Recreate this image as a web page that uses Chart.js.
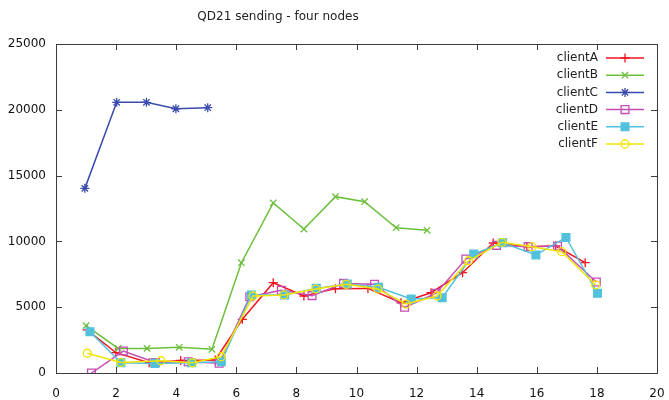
<!DOCTYPE html>
<html>
<head>
<meta charset="utf-8">
<script src="https://cdn.jsdelivr.net/npm/chart.js@4/dist/chart.umd.min.js"></script>
<style>
html,body{margin:0;padding:0;background:#fff;}
#wrap{width:669px;height:400px;position:relative;}
</style>
</head>
<body>
<div id="wrap"><canvas id="c" width="669" height="400"></canvas></div>
<script>
const chartTitle = "QD21 sending - four nodes";
const seriesNames = ["clientA","clientB","clientC","clientD","clientE","clientF"];
const xTicks = [0,2,4,6,8,10,12,14,16,18,20];
const yTicks = [0,5000,10000,15000,20000,25000];

const clientA_x = [1.04, 1.99, 3.1, 4.15, 5.3, 6.2, 7.23, 8.25, 9.3, 10.38, 11.48, 12.48, 13.53, 14.55, 15.67, 16.63, 17.61];
const clientA_y = [3270, 1550, 780, 950, 990, 4080, 6860, 5850, 6410, 6430, 5340, 6100, 7620, 9880, 9600, 9650, 8380];

const clientB_x = [1.0, 2.07, 3.03, 4.1, 5.19, 6.17, 7.23, 8.25, 9.3, 10.27, 11.32, 12.35];
const clientB_y = [3600, 1870, 1870, 1950, 1800, 8380, 12920, 10940, 13400, 13020, 11040, 10840];

const clientC_x = [0.96, 2.02, 3.01, 3.99, 5.05];
const clientC_y = [14030, 20570, 20570, 20080, 20160];

const clientD_x = [1.18, 2.24, 3.3, 4.4, 5.43, 6.45, 7.5, 8.52, 9.57, 10.6, 11.6, 12.65, 13.64, 14.66, 15.71, 16.69, 17.98];
const clientD_y = [0, 1670, 800, 860, 740, 5800, 6280, 5880, 6810, 6740, 4990, 6060, 8660, 9700, 9600, 9650, 6910];

const clientE_x = [1.13, 2.16, 3.29, 4.51, 5.5, 6.5, 7.61, 8.66, 9.69, 10.73, 11.82, 12.85, 13.9, 14.86, 15.97, 16.97, 18.02];
const clientE_y = [3140, 780, 730, 780, 860, 5930, 5930, 6430, 6760, 6510, 5620, 5720, 9040, 9900, 8970, 10300, 6060];

const clientF_x = [1.04, 2.16, 3.49, 4.54, 5.5, 6.56, 7.58, 8.64, 9.66, 10.71, 11.65, 12.68, 13.73, 14.84, 15.84, 16.83, 17.96];
const clientF_y = [1500, 800, 930, 780, 1240, 5850, 5930, 6380, 6740, 6380, 5240, 5850, 8530, 9930, 9600, 9220, 6690];

const colors = ["#f0141e", "#6cbf3c", "#3a4bae", "#c64cb4", "#52c2dc", "#f2e400"];
const styles = ["cross", "crossRot", "star", "rect", "rect", "circle"];
const fills  = [false, false, false, false, true, false];
const radii  = [4.5, 4.5, 4.5, 5.5, 5.5, 4];

const xs = [clientA_x, clientB_x, clientC_x, clientD_x, clientE_x, clientF_x];
const ys = [clientA_y, clientB_y, clientC_y, clientD_y, clientE_y, clientF_y];

const FONT = "'DejaVu Sans', Verdana, sans-serif";

const datasets = seriesNames.map((name, i) => ({
  label: name,
  data: xs[i].map((x, k) => ({x: x, y: ys[i][k]})),
  borderColor: colors[i],
  backgroundColor: fills[i] ? colors[i] : 'rgba(0,0,0,0)',
  pointBorderColor: colors[i],
  pointBackgroundColor: fills[i] ? colors[i] : 'rgba(0,0,0,0)',
  pointStyle: styles[i],
  pointRadius: radii[i],
  pointBorderWidth: 1.3,
  borderWidth: 1.5,
  tension: 0,
  fill: false,
  order: seriesNames.length - i
}));

function drawMarker(ctx, style, filled, r, x, y, color) {
  ctx.save();
  ctx.strokeStyle = color;
  ctx.fillStyle = color;
  ctx.lineWidth = 1.3;
  ctx.beginPath();
  if (style === 'cross') {
    ctx.moveTo(x - r, y); ctx.lineTo(x + r, y);
    ctx.moveTo(x, y - r); ctx.lineTo(x, y + r);
    ctx.stroke();
  } else if (style === 'crossRot') {
    const d = r * Math.SQRT1_2;
    ctx.moveTo(x - d, y - d); ctx.lineTo(x + d, y + d);
    ctx.moveTo(x - d, y + d); ctx.lineTo(x + d, y - d);
    ctx.stroke();
  } else if (style === 'star') {
    const d = r * Math.SQRT1_2;
    ctx.moveTo(x - r, y); ctx.lineTo(x + r, y);
    ctx.moveTo(x, y - r); ctx.lineTo(x, y + r);
    ctx.moveTo(x - d, y - d); ctx.lineTo(x + d, y + d);
    ctx.moveTo(x - d, y + d); ctx.lineTo(x + d, y - d);
    ctx.stroke();
  } else if (style === 'rect') {
    const s = r * Math.SQRT1_2;
    ctx.rect(x - s, y - s, 2 * s, 2 * s);
    if (filled) ctx.fill();
    ctx.stroke();
  } else if (style === 'circle') {
    ctx.arc(x, y, r, 0, Math.PI * 2);
    if (filled) ctx.fill();
    ctx.stroke();
  }
  ctx.restore();
}

const framePlugin = {
  id: 'frame',
  afterDatasetsDraw(chart) {
    const ctx = chart.ctx;
    const a = chart.chartArea;
    const xs_ = chart.scales.x, ys_ = chart.scales.y;
    ctx.save();
    ctx.strokeStyle = '#3c3c3c';
    ctx.lineWidth = 1;
    ctx.strokeRect(Math.round(a.left) + 0.5, Math.round(a.top) + 0.5,
                   Math.round(a.right - a.left), Math.round(a.bottom - a.top));
    const tl = 6;
    ctx.beginPath();
    xs_.ticks.forEach(t => {
      const px = Math.round(xs_.getPixelForValue(t.value)) + 0.5;
      ctx.moveTo(px, a.bottom); ctx.lineTo(px, a.bottom - tl);
      ctx.moveTo(px, a.top); ctx.lineTo(px, a.top + tl);
    });
    ys_.ticks.forEach(t => {
      const py = Math.round(ys_.getPixelForValue(t.value)) + 0.5;
      ctx.moveTo(a.left, py); ctx.lineTo(a.left + tl, py);
      ctx.moveTo(a.right, py); ctx.lineTo(a.right - tl, py);
    });
    ctx.stroke();

    // title
    ctx.fillStyle = '#222';
    ctx.font = '12px ' + FONT;
    ctx.textAlign = 'center';
    ctx.textBaseline = 'middle';
    ctx.fillText(chartTitle, 278, 17);

    // legend
    chart.data.datasets.forEach((ds, i) => {
      const ly = 58 + i * 17.2;
      ctx.fillStyle = '#222';
      ctx.font = '12px ' + FONT;
      ctx.textAlign = 'right';
      ctx.textBaseline = 'middle';
      ctx.fillText(ds.label, 598, ly);
      ctx.strokeStyle = colors[i];
      ctx.lineWidth = 1.5;
      ctx.beginPath();
      ctx.moveTo(606, ly); ctx.lineTo(644, ly);
      ctx.stroke();
      drawMarker(ctx, styles[i], fills[i], radii[i], 625, ly, colors[i]);
    });
    ctx.restore();
  }
};

new Chart(document.getElementById('c'), {
  type: 'line',
  data: { datasets: datasets },
  options: {
    responsive: false,
    animation: false,
    devicePixelRatio: 1,
    layout: { padding: { left: 0, right: 12, top: 44, bottom: 0 } },
    plugins: {
      legend: { display: false },
      title: { display: false },
      tooltip: { enabled: false }
    },
    scales: {
      x: {
        type: 'linear',
        min: 0, max: 20,
        afterBuildTicks: s => { s.ticks = xTicks.map(v => ({value: v})); },
        afterFit: s => { s.height = 27; s.paddingLeft = 0; s.paddingRight = 0; },
        grid: { display: false, drawTicks: false },
        border: { display: false },
        ticks: { color: '#111', font: { family: FONT, size: 12 }, padding: 14, maxRotation: 0,
                 callback: v => String(v) }
      },
      y: {
        type: 'linear',
        min: 0, max: 25000,
        afterBuildTicks: s => { s.ticks = yTicks.map(v => ({value: v})); },
        afterFit: s => { s.width = 56; s.paddingTop = 0; s.paddingBottom = 0; },
        grid: { display: false, drawTicks: false },
        border: { display: false },
        ticks: { color: '#111', font: { family: FONT, size: 12 }, padding: 10,
                 callback: v => String(v) }
      }
    }
  },
  plugins: [framePlugin]
});
</script>
</body>
</html>
